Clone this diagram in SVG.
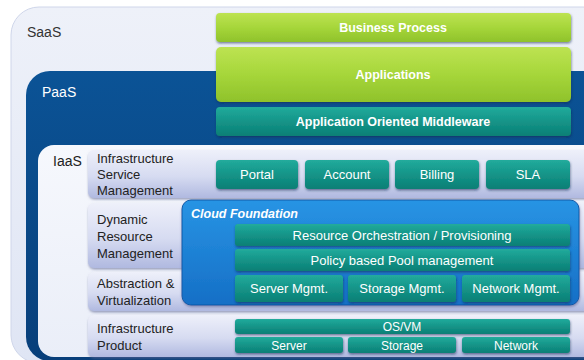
<svg xmlns="http://www.w3.org/2000/svg" width="584" height="360" viewBox="0 0 584 360">
<defs>
<linearGradient id="gSaas" x1="0" y1="0" x2="0" y2="1"><stop offset="0" stop-color="#eef1f9"/><stop offset="1" stop-color="#dfe5f4"/></linearGradient>
<linearGradient id="gPaas" x1="0" y1="0" x2="0" y2="1"><stop offset="0" stop-color="#0b5396"/><stop offset="1" stop-color="#083f7a"/></linearGradient>
<linearGradient id="gIaas" x1="0" y1="0" x2="0" y2="1"><stop offset="0" stop-color="#f6f8fd"/><stop offset="1" stop-color="#eaeef8"/></linearGradient>
<linearGradient id="gLab" x1="0" y1="0" x2="0" y2="1"><stop offset="0" stop-color="#eef0fa"/><stop offset="0.55" stop-color="#d6dbf1"/><stop offset="1" stop-color="#b0b9e0"/></linearGradient>
<linearGradient id="gGreen" x1="0" y1="0" x2="0" y2="1"><stop offset="0" stop-color="#bde352"/><stop offset="0.5" stop-color="#a6d63a"/><stop offset="1" stop-color="#8fc22b"/></linearGradient>
<linearGradient id="gTeal" x1="0" y1="0" x2="0" y2="1"><stop offset="0" stop-color="#22ab9c"/><stop offset="0.5" stop-color="#149488"/><stop offset="1" stop-color="#0c7f75"/></linearGradient>
<linearGradient id="gCloud" x1="0" y1="0" x2="0" y2="1"><stop offset="0" stop-color="#2894e4"/><stop offset="1" stop-color="#156fc6"/></linearGradient>
<filter id="sh" x="-5%" y="-20%" width="110%" height="150%"><feDropShadow dx="0.5" dy="1.5" stdDeviation="0.8" flood-color="#0a2a50" flood-opacity="0.55"/></filter>
<filter id="shl" x="-5%" y="-20%" width="110%" height="150%"><feDropShadow dx="0.5" dy="1.5" stdDeviation="1" flood-color="#5a6490" flood-opacity="0.6"/></filter>
</defs>
<style>
text{font-family:"Liberation Sans",Arial,sans-serif}
.green{fill:url(#gGreen);filter:url(#sh)}
.teal{fill:url(#gTeal);filter:url(#sh)}
.lab{fill:url(#gLab);filter:url(#shl)}
.bt{fill:#fff;font-weight:bold;font-size:12.5px;text-anchor:middle}
.wt{fill:#fff;font-size:13px;text-anchor:middle}
.st{fill:#fff;font-size:12px;text-anchor:middle}
.lt{fill:#222;font-size:13px}
.tier{font-size:14px}
</style>
<g id="saas">
<rect x="11" y="7" width="600" height="356" rx="28" fill="url(#gSaas)" stroke="#cfd6ea" stroke-width="1"/>
<text class="tier" x="27" y="37" fill="#333">SaaS</text>
</g>
<g id="paas">
<rect x="26" y="71" width="600" height="290" rx="24" fill="url(#gPaas)"/>
<text class="tier" x="42" y="97" fill="#fff">PaaS</text>
</g>
<g id="iaas">
<rect x="38" y="145" width="600" height="212" rx="16" fill="url(#gIaas)"/>
<text class="tier" x="53" y="166" fill="#222">IaaS</text>
</g>
<g id="business-process"><rect class="green" x="216" y="13" width="355" height="29" rx="4"/><text class="bt" x="393" y="32">Business Process</text></g>
<g id="applications"><rect class="green" x="216" y="47" width="355" height="55" rx="5"/><text class="bt" x="393" y="79">Applications</text></g>
<g id="middleware"><rect class="teal" x="216" y="107" width="355" height="29" rx="4"/><text class="bt" x="393" y="126">Application Oriented Middleware</text></g>
<g id="row-ism"><rect class="lab" x="88" y="150" width="510" height="48" rx="6"/><text class="lt" x="97" y="163">Infrastructure</text><text class="lt" x="97" y="179">Service</text><text class="lt" x="97" y="195">Management</text></g>
<g id="row-drm"><rect class="lab" x="88" y="203" width="510" height="65" rx="6"/><text class="lt" x="97" y="224">Dynamic</text><text class="lt" x="97" y="241">Resource</text><text class="lt" x="97" y="258">Management</text></g>
<g id="row-av"><rect class="lab" x="88" y="272" width="510" height="39" rx="6"/><text class="lt" x="97" y="288">Abstraction &amp;</text><text class="lt" x="97" y="305">Virtualization</text></g>
<g id="row-ip"><rect class="lab" x="88" y="315" width="510" height="42" rx="6"/><text class="lt" x="97" y="333">Infrastructure</text><text class="lt" x="97" y="350">Product</text></g>
<g id="portal"><rect class="teal" x="216" y="160" width="82" height="29" rx="4"/><text class="wt" x="257" y="179">Portal</text></g>
<g id="account"><rect class="teal" x="305" y="160" width="84" height="29" rx="4"/><text class="wt" x="347" y="179">Account</text></g>
<g id="billing"><rect class="teal" x="395" y="160" width="84" height="29" rx="4"/><text class="wt" x="437" y="179">Billing</text></g>
<g id="sla"><rect class="teal" x="486" y="160" width="84" height="29" rx="4"/><text class="wt" x="528" y="179">SLA</text></g>
<g id="cloud-foundation">
<rect x="182" y="200" width="397" height="105" rx="9" fill="url(#gCloud)" stroke="#0f5aa8" stroke-width="1" filter="url(#shl)"/>
<text x="191" y="218" fill="#fff" font-size="12.5" font-weight="bold" font-style="italic">Cloud Foundation</text>
</g>
<g id="orchestration"><rect class="teal" x="235" y="224" width="335" height="22" rx="3"/><text class="wt" x="402" y="240">Resource Orchestration / Provisioning</text></g>
<g id="pool"><rect class="teal" x="235" y="249" width="335" height="22" rx="3"/><text class="wt" x="402" y="265">Policy based Pool management</text></g>
<g id="server-mgmt"><rect class="teal" x="235" y="275" width="108" height="27" rx="3"/><text class="wt" x="289" y="293">Server Mgmt.</text></g>
<g id="storage-mgmt"><rect class="teal" x="348" y="275" width="108" height="27" rx="3"/><text class="wt" x="402" y="293">Storage Mgmt.</text></g>
<g id="network-mgmt"><rect class="teal" x="462" y="275" width="108" height="27" rx="3"/><text class="wt" x="516" y="293">Network Mgmt.</text></g>
<g id="osvm"><rect class="teal" x="235" y="319" width="335" height="15" rx="3"/><text class="st" x="402" y="331">OS/VM</text></g>
<g id="server"><rect class="teal" x="235" y="337" width="108" height="16" rx="3"/><text class="st" x="289" y="350">Server</text></g>
<g id="storage"><rect class="teal" x="348" y="337" width="108" height="16" rx="3"/><text class="st" x="402" y="350">Storage</text></g>
<g id="network"><rect class="teal" x="462" y="337" width="108" height="16" rx="3"/><text class="st" x="516" y="350">Network</text></g>
<g id="connectors"/>
</svg>
